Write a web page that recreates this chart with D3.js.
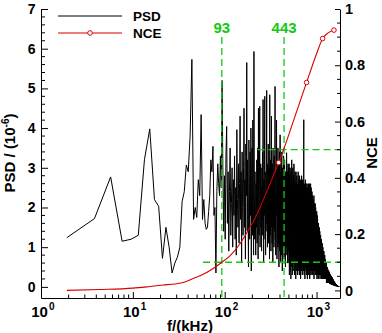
<!DOCTYPE html>
<html><head><meta charset="utf-8">
<script src="https://cdn.jsdelivr.net/npm/d3@7"></script>
<style>
body{margin:0;background:#fff}
svg{display:block}
text{font-family:"Liberation Sans",Arial,Helvetica,sans-serif;font-weight:bold;fill:#000}
</style>
</head><body>
<svg id="chart" width="382" height="333"></svg>
<script>
// ---------- data ----------
const freqStep = 1.91; // kHz, frequency resolution of the spectrum
// PSD (1e-6) at f = freqStep * k, k = 1, 2, 3 ...
const psdBand1 = [
1.24,1.72,2.77,1.15,1.2,1.3,3.2,3.98,2.2,2.03,
0.72,1.5,1.0,0.35,0.6,0.75,1.0,2.15,2.4,3.07,
2.9,3.8,5.73,1.7,2.0,1.75,2.7,2.3,4.34,1.7,
2.2,1.6,1.45,1.5,1.9,2.3,3.2,2.9,3.54,1.8,
2.0,0.35,2.4,3.1,2.6,2.3,3.3,2.5,5.2,3.0];
const psdBand2 = [
1.4,2.8,1.2,3.3,4.04,1.6,2.9,0.9,2.4,3.5,
1.3,2.1,3.0,1.0,2.7,1.8,3.3,1.2,2.5,0.8,
3.96,2.2,1.5,3.1,1.1,2.6,4.3,1.7,2.9,0.6,
3.4,2.0,1.3,3.0,4.5,1.5,2.7,0.7,3.6,2.3,
5.65,1.4,3.2,2.0,0.5,3.7,2.6,1.2,3.4,1.8,
4.0,0.4,2.8,3.5,1.3,4.2,2.1,0.8,5.93,2.4];
const psdBand3 = [
1.2,2.9,1.8,0.8,2.6,1.5,3.2,1.1,2.4,3.5,0.7,4.5,1.9,1.3,2.8,4.55,1.0,2.2,3.1,1.5,
2.5,0.9,3.0,1.7,3.4,1.3,4.72,2.0,0.6,2.7,1.8,3.5,4.8,1.2,2.3,0.8,2.9,1.6,3.3,4.95,
1.4,2.4,1.0,3.1,1.9,3.6,1.1,2.6,1.6,3.0,0.7,4.84,2.1,1.3,3.2,1.8,0.9,2.8,4.3,1.5,
2.5,1.1,3.1,2.0,0.6,3.5,1.5,2.8,2.2,1.0,3.3,1.4,2.6,3.0,5.05,1.2,2.3,0.8,2.9,1.8,
2.7,4.2,2.6,0.7,2.4,3.2,1.6,1.0,3.5,2.0,3.1,1.1,2.3,0.5,2.8,1.6,3.4,0.9,2.4,3.83,
1.3,2.6,0.6,2.9,1.8,3.1,0.8,2.2,3.4,1.2,2.5,0.4,3.0,1.5,2.4,2.8,1.0,2.0,3.3,1.4,
2.5,0.7,2.8,1.7,3.2,0.9,2.2,1.4,2.7,0.5,2.9,1.6,2.3,1.0,2.8,1.3,3.38,1.9,0.8,2.6,
1.5,2.9,0.6,2.4,1.8,3.1,0.9,2.1,1.3,3.0];
const psdBand4 = [
2.4,0.6,3.1,1.5,0.3,2.8,1.1,2.0,0.4,3.0,1.7,0.8,2.6,1.2,0.2,2.9,1.9,0.7,2.3,1.0,
3.2,0.5,1.8,2.7,0.3,1.4,2.5,0.9,3.0,1.6,0.4,2.2,1.1,2.8,0.6,1.9,3.1,0.8,2.4,1.3,
0.3,2.7,1.5,0.9,2.9,1.8,0.5,2.3,1.2,2.6,0.2,1.7,2.9,1.0,0.6,2.5,1.4,2.0,0.4,2.8,
1.1,1.9,0.7,2.6,1.5,0.3,2.4,1.8,0.8,2.9,1.3,0.5,2.2,1.6,2.7,0.4,1.2,2.5,0.9,2.0,
0.3,2.8,1.4,0.7,2.3,1.9,0.5,2.6,1.1,2.0,0.2,2.7,1.6,0.8,2.4,1.3,0.4,2.1,1.7,2.8,
0.6,1.5,2.5,0.9,2.0,0.3,2.7,1.2,1.8,0.5,2.4,1.4,0.7,2.6,1.0,2.2,0.4,1.9,2.7,4.21,
0.8,2.3,1.3,0.3,2.6,1.7,0.6,2.1,1.1,2.5,0.2,1.8,2.4,0.7,1.4,2.7,0.5,2.0,1.2,2.3];
const psdBand5 = [
0.4,2.6,1.5,0.8,2.2,1.0,2.5,0.3,1.7,2.4,0.6,1.3,2.6,0.9,2.0,0.2,2.3,1.6,0.5,2.5,
1.2,1.9,0.4,2.4,1.4,0.7,2.6,1.1,2.1,0.3,1.8,2.5,0.8,1.5,2.2,0.5,2.6,1.3,0.9,2.3,
0.2,1.7,2.5,1.0,0.6,2.4,1.6,0.4,2.2,1.2,2.6,0.7,1.9,0.3,2.3,1.4,0.8,2.5,1.1,2.0,
0.4,2.3,1.5,0.6,2.1,1.0,2.4,0.3,1.7,2.2,0.8,1.3,2.3,0.5,1.9,1.1,2.2,0.3,1.6,2.1,
0.7,1.4,2.2,0.4,1.8,1.0,2.1,0.6,1.5,2.3,0.2,1.7,1.2,2.0,0.5,1.9,0.9,2.1,1.3,0.4,
1.8,2.0,0.6,1.4,1.1,2.1,0.3,1.6,1.9,0.8,1.2,2.0,0.5,1.7,0.9,1.8,0.3,1.5,1.9,0.7,
1.3,1.8,0.4,1.6,1.0,1.9,0.6,1.4,0.2,1.7,1.2,0.5,1.8,0.9,1.5,0.3,1.7,1.1,0.6,1.6,
1.3,0.4,1.6,0.8,1.5,0.2,1.4,1.1,0.5,1.6,0.9,1.3,0.3,1.5,0.7,1.2,1.4,0.4,1.0,1.5,
0.6,1.3,0.3,1.4,0.9,1.2,0.4,1.4,0.7,1.1,0.2,1.3,0.9,0.5,1.3,0.8,1.2,0.3,1.1,1.3,
0.5,1.0,1.2,0.3,1.1,0.7,1.2,0.4,0.9,1.2,0.2,1.0,0.7,1.1,0.4,0.9,1.1,0.3,0.8,1.0];
const psdBand6 = [
0.5,1.1,0.3,0.9,0.7,1.0,0.2,0.8,1.0,0.4,0.9,0.6,1.0,0.3,0.7,0.9,0.2,0.8,0.5,0.9,
0.3,0.8,0.6,0.9,0.2,0.7,0.8,0.4,0.9,0.3,0.6,0.8,0.2,0.7,0.5,0.8,0.3,0.6,0.8,0.2,
0.7,0.4,0.8,0.3,0.6,0.7,0.2,0.6,0.5,0.7,0.2,0.6,0.4,0.7,0.3,0.5,0.6,0.2,0.5,0.6,
0.3,0.6,0.4,0.5,0.2,0.6,0.3,0.5,0.4,0.6,0.1,0.5,0.4,0.5,0.2,0.5,0.3,0.5,0.4,0.2,
0.5,0.3,0.5,0.1,0.4,0.4,0.2,0.5,0.3,0.4,0.1,0.4,0.3,0.45,0.2,0.4,0.3,0.1,0.4,0.3,
0.42,0.15,0.38,0.25,0.4,0.1,0.35,0.3,0.2,0.4,0.12,0.33,0.28,0.38,0.1,0.34,0.22,0.36,0.15,0.3,
0.35,0.1,0.32,0.24,0.34,0.08,0.3,0.26,0.18,0.33,0.1,0.3,0.22,0.32,0.08,0.28,0.25,0.3,0.12,0.27,
0.3,0.1,0.28,0.2,0.29,0.07,0.26,0.22,0.15,0.28,0.08,0.25,0.2,0.27,0.06,0.24,0.19,0.26,0.1,0.23,
0.26,0.08,0.24,0.17,0.25,0.06,0.22,0.2,0.12,0.24,0.07,0.21,0.18,0.23,0.05,0.2,0.16,0.22,0.09,0.19,
0.21,0.06,0.19,0.15,0.2,0.05,0.18,0.16,0.1,0.19,0.05,0.17,0.14,0.18,0.04,0.16,0.13,0.17,0.07,0.15];
const psdBand7 = [
0.16,0.05,0.15,0.12,0.15,0.04,0.14,0.12,0.08,0.14,0.04,0.13,0.11,0.13,0.03,0.12,0.1,0.12,0.05,0.11,
0.12,0.04,0.11,0.09,0.11,0.03,0.1,0.09,0.06,0.1,0.03,0.09,0.08,0.09,0.02,0.08,0.07,0.08,0.04,0.07,
0.08,0.03,0.07,0.06,0.07,0.02,0.07,0.06,0.04,0.06,0.02,0.06,0.05,0.06,0.02,0.05,0.05,0.05,0.03,0.05,
0.05,0.02,0.05,0.04,0.05,0.02,0.04,0.04,0.03,0.04,0.02,0.04,0.03,0.04,0.01,0.03,0.03,0.03,0.02,0.03,
0.03,0.02,0.03,0.02,0.03,0.01,0.03,0.02,0.02,0.02,0.01,0.02,0.02,0.02,0.01,0.02,0.02,0.02,0.01,0.02,
0.02,0.01,0.02,0.01,0.02,0.01,0.01,0.01,0.01,0.01,0.01,0.01,0.01,0.01,0.01,0.01,0.01,0.01,0.01,0.01,
0.01,0.01,0.01,0.01,0.01,0.01,0.01,0.01,0.01,0.01,0.01,0.01,0.01,0.01,0.01,0.01,0.01,0.01,0.01,0.01];

// NCE (normalized cumulative energy)
const nceFreq = [1.91,4.4,10,15.4,21.4,28.7,35.5,47.3,54,75,93,114,146,185,213,274,336,387,443,552,779,1003,1165,1338,1547];
const nceVal  = [0,0.003,0.008,0.014,0.019,0.023,0.028,0.045,0.052,0.078,0.1,0.123,0.165,0.22,0.255,0.335,0.405,0.454,0.505,0.596,0.739,0.842,0.895,0.915,0.925];
const nceMarkFreq = [387,779,1165,1547];
const nceMarkVal  = [0.454,0.739,0.895,0.925];

// reference markers
const refFreq = [93,443];
const refLabels = ["93","443"];
const refNce = [0.1,0.5];
const refStartFreq = [58,228];

// axes ticks
const xMajor = [1,10,100,1000];
const xMajorExp = ["0","1","2","3"];
const yLeftTicks = [0,1,2,3,4,5,6,7];
const yRightTicks = [0,0.2,0.4,0.6,0.8,1];
const yRightLabels = ["0","0.2","0.4","0.6","0.8","1"];

// ---------- layout ----------
const L = 41, R = 340, T = 9, B = 298;
const svg = d3.select("#chart");
const x = d3.scaleLog().domain([1,1800]).range([L,R]);
const yL = d3.scaleLinear().domain([-0.28,7]).range([B,T]);
const yR = d3.scaleLinear().domain([-0.027,1]).range([B,T]);

const psd = [].concat(psdBand1,psdBand2,psdBand3,psdBand4,psdBand5,psdBand6,psdBand7);
const psdData = psd.map((v,i)=>({f:(i+1)*freqStep, v}));

const green = "#14c814", red = "#d80000";

// PSD line
svg.append("path").datum(psdData)
  .attr("fill","none").attr("stroke","#000").attr("stroke-width",1)
  .attr("d", d3.line().x(d=>x(d.f)).y(d=>yL(d.v)));

// green reference lines
refFreq.forEach((f,i)=>{
  svg.append("line").attr("x1",x(f)).attr("x2",x(f)).attr("y1",37).attr("y2",B)
    .attr("stroke",green).attr("stroke-width",1.3).attr("stroke-dasharray","7,4");
  svg.append("line").attr("x1",x(refStartFreq[i])).attr("x2",R)
    .attr("y1",yR(refNce[i])).attr("y2",yR(refNce[i]))
    .attr("stroke",green).attr("stroke-width",1.3).attr("stroke-dasharray","7,4");
  svg.append("text").attr("x",x(f)).attr("y",33).attr("text-anchor","middle")
    .style("font-size","15px").style("fill",green).text(refLabels[i]);
});

// NCE line
const nceData = nceFreq.map((f,i)=>({f, v:nceVal[i]}));
svg.append("path").datum(nceData)
  .attr("fill","none").attr("stroke",red).attr("stroke-width",1.1)
  .attr("d", d3.line().curve(d3.curveMonotoneX).x(d=>x(d.f)).y(d=>yR(d.v)));
svg.selectAll("circle.m").data(nceMarkFreq).enter().append("circle")
  .attr("cx",d=>x(d)).attr("cy",(d,i)=>yR(nceMarkVal[i])).attr("r",2.3)
  .attr("fill","#fff").attr("stroke",red).attr("stroke-width",1);

// ---------- axes ----------
const axStroke = "#000";
// left
const gL = svg.append("g").attr("transform",`translate(${L},0)`);
gL.call(d3.axisLeft(yL).tickValues(yLeftTicks).tickSize(-7).tickSizeOuter(0).tickPadding(5.5).tickFormat(d3.format("d")));
const leftMinor = d3.range(0,7.01,0.2).filter(v=>Math.abs(v-Math.round(v))>0.01);
gL.selectAll("line.mn").data(leftMinor).enter().append("line")
  .attr("x1",0).attr("x2",4).attr("y1",d=>yL(d)).attr("y2",d=>yL(d)).attr("stroke",axStroke);
// right
const gR = svg.append("g").attr("transform",`translate(${R},0)`);
gR.call(d3.axisRight(yR).tickValues(yRightTicks).tickSize(-5).tickSizeOuter(0).tickPadding(5).tickFormat((d,i)=>yRightLabels[i]));
const rightMinor = d3.range(0,1.001,0.05).filter(v=>Math.abs(v*5-Math.round(v*5))>0.01);
gR.selectAll("line.mn").data(rightMinor).enter().append("line")
  .attr("x1",0).attr("x2",-3).attr("y1",d=>yR(d)).attr("y2",d=>yR(d)).attr("stroke",axStroke);
// bottom
const gB = svg.append("g").attr("transform",`translate(0,${B})`);
gB.call(d3.axisBottom(x).tickValues(xMajor).tickSize(-6).tickSizeOuter(0).tickFormat(""));
const xMinor = [];
[1,10,100,1000].forEach(dec=>{for(let m=2;m<=9;m++){const v=dec*m; if(v<=1800) xMinor.push(v);}});
gB.selectAll("line.mn").data(xMinor).enter().append("line")
  .attr("x1",d=>x(d)).attr("x2",d=>x(d)).attr("y1",0).attr("y2",-3.5).attr("stroke",axStroke);

[gL,gR,gB].forEach(g=>{
  g.selectAll(".domain").attr("stroke",axStroke).attr("stroke-width",1);
  g.selectAll(".tick line").attr("stroke",axStroke);
  g.selectAll("text").style("font-family",'"Liberation Sans",Arial,sans-serif').style("font-weight","bold");
});
gL.selectAll("text").style("font-size","14px");
gR.selectAll("text").style("font-size","14.5px");

// bottom tick labels 10^n
xMajor.forEach((v,i)=>{
  const cx = x(v)-1.5;
  svg.append("text").attr("x",cx).attr("y",317).attr("text-anchor","middle")
    .style("font-size","15px").text("10");
  svg.append("text").attr("x",cx+9.5).attr("y",309.5).attr("text-anchor","start")
    .style("font-size","10px").text(xMajorExp[i]);
});

// axis titles
svg.append("text").attr("x",190).attr("y",331).attr("text-anchor","middle")
  .style("font-size","15px").text("f/(kHz)");
const tl = svg.append("text").attr("transform",`translate(15,153) rotate(-90)`)
  .attr("text-anchor","middle").style("font-size","15px");
tl.append("tspan").text("PSD / (10");
tl.append("tspan").attr("dy",-6).style("font-size","10px").text("-6");
tl.append("tspan").attr("dy",6).text(")");
svg.append("text").attr("transform",`translate(377,153) rotate(-90)`)
  .attr("text-anchor","middle").style("font-size","15px").text("NCE");

// legend
const lg = svg.append("g");
lg.append("line").attr("x1",58).attr("x2",122).attr("y1",16).attr("y2",16).attr("stroke","#000").attr("stroke-width",1);
lg.append("text").attr("x",133).attr("y",20.5).style("font-size","13.5px").text("PSD");
lg.append("line").attr("x1",58).attr("x2",122).attr("y1",33).attr("y2",33).attr("stroke",red).attr("stroke-width",1.1);
lg.append("circle").attr("cx",90).attr("cy",33).attr("r",2.3).attr("fill","#fff").attr("stroke",red);
lg.append("text").attr("x",133).attr("y",37.5).style("font-size","13.5px").text("NCE");
</script>
</body></html>
